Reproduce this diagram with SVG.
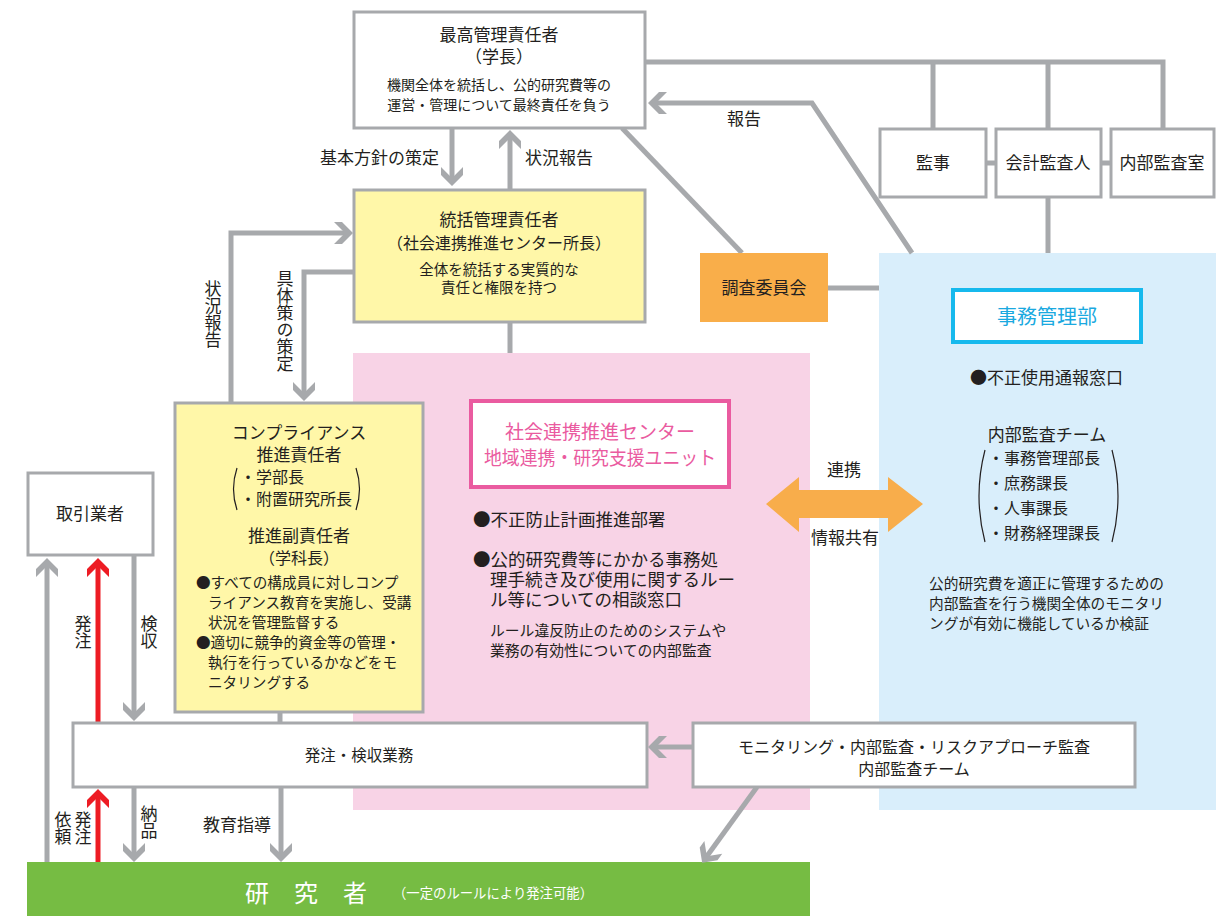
<svg xmlns="http://www.w3.org/2000/svg" width="1224" height="916" viewBox="0 0 1224 916">
<defs>
<style>
text{font-family:"Noto Sans CJK JP","Noto Sans",sans-serif;fill:#231f20}
.box{fill:#fff;stroke:#a7a9ac;stroke-width:3}
.ybox{fill:#fff7a8;stroke:#a7a9ac;stroke-width:3}
.ln{fill:none;stroke:#a7a9ac;stroke-width:5}
.red{fill:none;stroke:#ed1c24;stroke-width:5}
.par{fill:none;stroke:#231f20;stroke-width:1.2}
.c{text-anchor:middle}
.v{writing-mode:vertical-rl}
.t17{font-size:17px}
.t16{font-size:16px}
.t14{font-size:14px}
</style>
<marker id="ah" viewBox="-16 -12 21 24" markerWidth="21" markerHeight="24" refX="0" refY="0" orient="auto" markerUnits="userSpaceOnUse">
<path d="M4,0 L-7,-11 L-15,-11 L-4,0 L-15,11 L-7,11 Z" fill="#a7a9ac"/>
</marker>
<marker id="ahr" viewBox="-16 -12 21 24" markerWidth="21" markerHeight="24" refX="0" refY="0" orient="auto" markerUnits="userSpaceOnUse">
<path d="M4,0 L-7,-11 L-15,-11 L-4,0 L-15,11 L-7,11 Z" fill="#ed1c24"/>
</marker>
</defs>

<g id="regions">
<rect id="pink-area" x="353" y="353" width="457" height="457" fill="#f8d3e6"/>
<rect id="blue-area" x="879" y="253" width="337" height="557" fill="#d9eefb"/>
<rect id="green-bar" x="27" y="862" width="783" height="54" fill="#76bc43"/>
</g>

<g id="connectors">
<path class="ln" d="M452,129 V182" marker-end="url(#ah)"/>
<path class="ln" d="M510,190 V134" marker-end="url(#ah)"/>
<path class="ln" d="M645,62 H1163 V130 M933,62 V130 M1048,62 V130"/>
<path class="ln" d="M986,163 H996 M1101,163 H1111"/>
<path class="ln" d="M1048,197 V253"/>
<path class="ln" d="M912,253 L812,103 H652" marker-end="url(#ah)"/>
<path class="ln" d="M622,128 L742,253"/>
<path class="ln" d="M828,288 H879"/>
<path class="ln" d="M231,403 V233 H349" marker-end="url(#ah)"/>
<path class="ln" d="M354,272 H304 V397" marker-end="url(#ah)"/>
<path class="ln" d="M510,322 V353"/>
<path class="ln" d="M280,712 V723"/>
<path class="ln" d="M47,862 V562" marker-end="url(#ah)"/>
<path class="red" d="M98,723 V562" marker-end="url(#ahr)"/>
<path class="ln" d="M134,555 V717" marker-end="url(#ah)"/>
<path class="ln" d="M693,747 H652" marker-end="url(#ah)"/>
<path class="ln" d="M757,787 L704.5,859.5" marker-end="url(#ah)"/>
<path class="red" d="M98,862 V793" marker-end="url(#ahr)"/>
<path class="ln" d="M134,787 V858" marker-end="url(#ah)"/>
<path class="ln" d="M281,787 V858" marker-end="url(#ah)"/>
<polygon id="renkei-arrow" points="766,504 799,477 799,490 888,490 888,477 923,504 888,532 888,518 799,518 799,532" fill="#f8ad4b"/>
</g>

<g id="labels">
<text class="t17" x="439" y="164" text-anchor="end">基本方針の策定</text>
<text class="t17" x="525" y="164">状況報告</text>
<text class="t17 c" x="744" y="125">報告</text>
<text class="t17 v" x="213" y="280">状況報告</text>
<text class="t17 v" x="285" y="270">具体策の策定</text>
<text class="t17 v" x="83" y="615">発注</text>
<text class="t17 v" x="149" y="615">検収</text>
<text class="t17 v" x="63" y="811">依頼</text>
<text class="t17 v" x="83" y="811">発注</text>
<text class="t17 v" x="149" y="805">納品</text>
<text class="t17 c" x="237" y="831">教育指導</text>
<text class="t17 c" x="844" y="476">連携</text>
<text class="t17 c" x="845" y="544">情報共有</text>
</g>

<g id="node-top">
<rect class="box" x="354" y="12" width="291" height="116"/>
<text class="t17 c" x="499" y="41">最高管理責任者</text>
<text class="t17 c" x="499" y="63">（学長）</text>
<text class="t14 c" x="499" y="90">機関全体を統括し、公的研究費等の</text>
<text class="t14 c" x="499" y="110">運営・管理について最終責任を負う</text>
</g>

<g id="node-kanji">
<rect class="box" x="880" y="129" width="106" height="68"/>
<text class="t17 c" x="933" y="169">監事</text>
</g>
<g id="node-kaikei">
<rect class="box" x="996" y="129" width="105" height="68"/>
<text class="t17 c" x="1048" y="169">会計監査人</text>
</g>
<g id="node-naibu">
<rect class="box" x="1111" y="129" width="103" height="68"/>
<text class="t17 c" x="1162" y="169">内部監査室</text>
</g>

<g id="node-chosa">
<rect x="700" y="253" width="128" height="69" fill="#f9ae4a"/>
<text class="t17 c" x="764" y="294">調査委員会</text>
</g>

<g id="node-tokatsu">
<rect class="ybox" x="354" y="190" width="291" height="132"/>
<text class="t17 c" x="499" y="226">統括管理責任者</text>
<text class="t16 c" x="499" y="249">（社会連携推進センター所長）</text>
<text class="c" x="499" y="275" style="font-size:14.5px">全体を統括する実質的な</text>
<text class="c" x="499" y="293" style="font-size:14.5px">責任と権限を持つ</text>
</g>

<g id="node-compliance">
<rect class="ybox" x="175" y="403" width="248" height="309"/>
<text class="t17 c" x="299" y="439">コンプライアンス</text>
<text class="t17 c" x="299" y="461">推進責任者</text>
<text class="t16" x="240" y="483">・学部長</text>
<text class="t16" x="240" y="505">・附置研究所長</text>
<path class="par" d="M237,468 Q230,489 237,510 M356,468 Q363,489 356,510"/>
<text class="t17 c" x="299" y="542">推進副責任者</text>
<text class="t16 c" x="299" y="564">（学科長）</text>
<g style="font-size:14.6px">
<text x="196" y="588">●すべての構成員に対しコンプ</text>
<text x="208" y="608">ライアンス教育を実施し、受講</text>
<text x="208" y="628">状況を管理監督する</text>
<text x="196" y="648">●適切に競争的資金等の管理・</text>
<text x="208" y="668">執行を行っているかなどをモ</text>
<text x="208" y="688">ニタリングする</text>
</g>
</g>

<g id="node-center">
<rect x="471" y="401" width="258" height="86" fill="#fff" stroke="#ea5ba0" stroke-width="4"/>
<text class="c" x="600" y="439" style="font-size:19px;fill:#ea5ba0">社会連携推進センター</text>
<text class="c" x="600" y="465" textLength="232" lengthAdjust="spacingAndGlyphs" style="font-size:19px;fill:#ea5ba0">地域連携・研究支援ユニット</text>
<g style="font-size:17.5px">
<text x="473" y="526">●不正防止計画推進部署</text>
<text x="473" y="566">●公的研究費等にかかる事務処</text>
<text x="490" y="586">理手続き及び使用に関するルー</text>
<text x="490" y="606">ル等についての相談窓口</text>
</g>
<text x="490" y="636" style="font-size:14.8px">ルール違反防止のためのシステムや</text>
<text x="490" y="656" style="font-size:14.8px">業務の有効性についての内部監査</text>
</g>

<g id="node-jimu">
<rect x="953" y="290" width="188" height="52" fill="#fff" stroke="#16b9ed" stroke-width="4"/>
<text class="c" x="1047" y="324" style="font-size:20px;fill:#1aa9e0">事務管理部</text>
<text class="t17" x="970" y="384">●不正使用通報窓口</text>
<text class="t17 c" x="1047" y="441">内部監査チーム</text>
<text class="t16" x="988" y="464">・事務管理部長</text>
<text class="t16" x="988" y="489">・庶務課長</text>
<text class="t16" x="988" y="514">・人事課長</text>
<text class="t16" x="988" y="539">・財務経理課長</text>
<path class="par" d="M985,450 Q973,496 985,542 M1112,450 Q1124,496 1112,542"/>
<text x="929" y="589" style="font-size:14.7px">公的研究費を適正に管理するための</text>
<text x="929" y="609" style="font-size:14.7px">内部監査を行う機関全体のモニタリ</text>
<text x="929" y="629" style="font-size:14.7px">ングが有効に機能しているか検証</text>
</g>

<g id="node-torihiki">
<rect class="box" x="28" y="473" width="125" height="82"/>
<text class="t17 c" x="90" y="520">取引業者</text>
</g>

<g id="node-hatchu">
<rect class="box" x="73" y="723" width="574" height="64"/>
<text class="c" x="359" y="761" style="font-size:15.5px">発注・検収業務</text>
</g>

<g id="node-monitor">
<rect class="box" x="693" y="723" width="442" height="64"/>
<text class="t16 c" x="914" y="753">モニタリング・内部監査・リスクアプローチ監査</text>
<text class="t16 c" x="914" y="775">内部監査チーム</text>
</g>

<g id="node-researcher">
<text x="245" y="902" style="font-size:24px;fill:#fff;letter-spacing:25px">研究者</text>
<text x="393" y="898" textLength="200" lengthAdjust="spacingAndGlyphs" style="font-size:14px;fill:#fff">（一定のルールにより発注可能）</text>
</g>
</svg>
